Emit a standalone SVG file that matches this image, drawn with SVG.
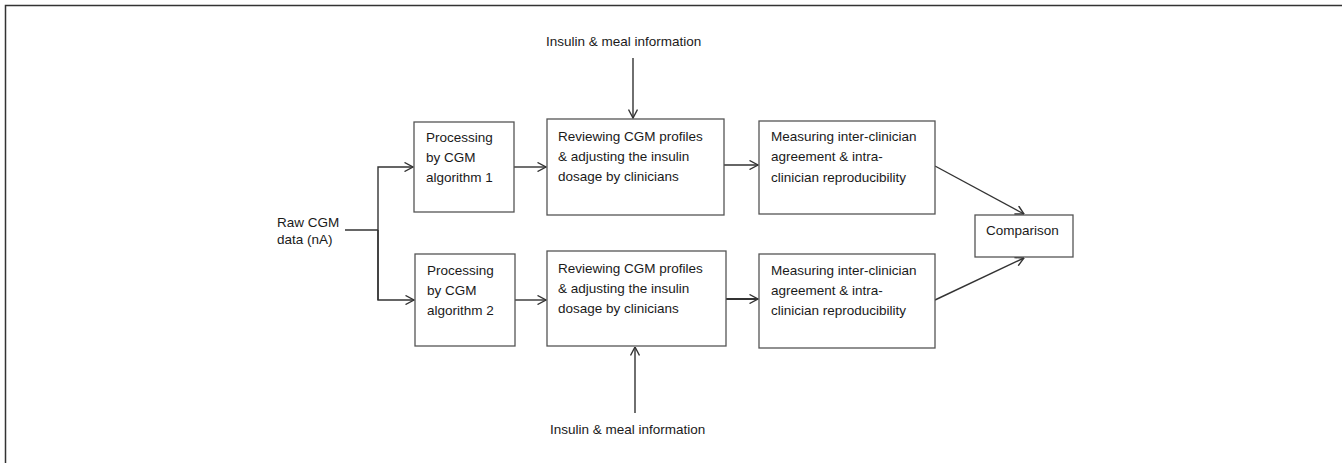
<svg xmlns="http://www.w3.org/2000/svg" width="1342" height="463" viewBox="0 0 1342 463">
<style>
.bg{fill:#ffffff}
.frame{fill:none;stroke:#333;stroke-width:1.5}
.box{fill:#ffffff;stroke:#555;stroke-width:1.3}
.edge{fill:none;stroke:#333;stroke-width:1.4}
text{font-family:"Liberation Sans",Arial,sans-serif;font-size:13.5px;fill:#1a1a1a}
</style>
<defs>
<marker id="arr" viewBox="0 0 10 10" refX="9.5" refY="5" markerWidth="10" markerHeight="10" markerUnits="userSpaceOnUse" orient="auto">
<polyline points="1,0.5 9.5,5 1,9.5" fill="none" stroke="#333" stroke-width="1.4"/>
</marker>
</defs>
<rect class="bg" x="0" y="0" width="1342" height="463"/>
<path class="frame" d="M5.5,463 L5.5,5.5 L1342,5.5"/>
<g id="connectors">
<path class="edge" d="M345,230 L378,230"/>
<path class="edge" d="M378,300 L378,167 L413,167" marker-end="url(#arr)"/>
<path class="edge" d="M378,230 L378,300 L414,300" marker-end="url(#arr)"/>
<path class="edge" d="M514,167 L546,167" marker-end="url(#arr)"/>
<path class="edge" d="M724,165 L758,165" marker-end="url(#arr)"/>
<path class="edge" d="M515,300 L546,300" marker-end="url(#arr)"/>
<path class="edge" d="M726,299 L758,299" marker-end="url(#arr)" style="stroke-width:2"/>
<path class="edge" d="M633,58 L633,118" marker-end="url(#arr)"/>
<path class="edge" d="M635,413 L635,347" marker-end="url(#arr)"/>
<path class="edge" d="M935,166 L1024,214" marker-end="url(#arr)"/>
<path class="edge" d="M935,300 L1024,258" marker-end="url(#arr)"/>
</g>
<g id="insulin-top"><text x="546" y="46">Insulin &amp; meal information</text></g>
<g id="insulin-bottom"><text x="550" y="434">Insulin &amp; meal information</text></g>
<g id="raw"><text x="277" y="227">Raw CGM</text><text x="277" y="244">data (nA)</text></g>
<g id="proc1"><rect class="box" x="414" y="122" width="100" height="90"/>
<text x="426" y="142">Processing</text><text x="426" y="162">by CGM</text><text x="426" y="182">algorithm 1</text></g>
<g id="review1"><rect class="box" x="547" y="119" width="177" height="96"/>
<text x="558" y="141">Reviewing CGM profiles</text><text x="558" y="161">&amp; adjusting the insulin</text><text x="558" y="181">dosage by clinicians</text></g>
<g id="measure1"><rect class="box" x="759" y="121" width="176" height="93"/>
<text x="771" y="141">Measuring inter-clinician</text><text x="771" y="161">agreement &amp; intra-</text><text x="771" y="182">clinician reproducibility</text></g>
<g id="proc2"><rect class="box" x="415" y="254" width="100" height="92"/>
<text x="427" y="275">Processing</text><text x="427" y="295">by CGM</text><text x="427" y="315">algorithm 2</text></g>
<g id="review2"><rect class="box" x="547" y="251" width="179" height="95"/>
<text x="558" y="273">Reviewing CGM profiles</text><text x="558" y="293">&amp; adjusting the insulin</text><text x="558" y="313">dosage by clinicians</text></g>
<g id="measure2"><rect class="box" x="759" y="254" width="176" height="94"/>
<text x="771" y="275">Measuring inter-clinician</text><text x="771" y="295">agreement &amp; intra-</text><text x="771" y="315">clinician reproducibility</text></g>
<g id="comparison"><rect class="box" x="975" y="215" width="98" height="42"/>
<text x="986" y="235">Comparison</text></g>
</svg>
